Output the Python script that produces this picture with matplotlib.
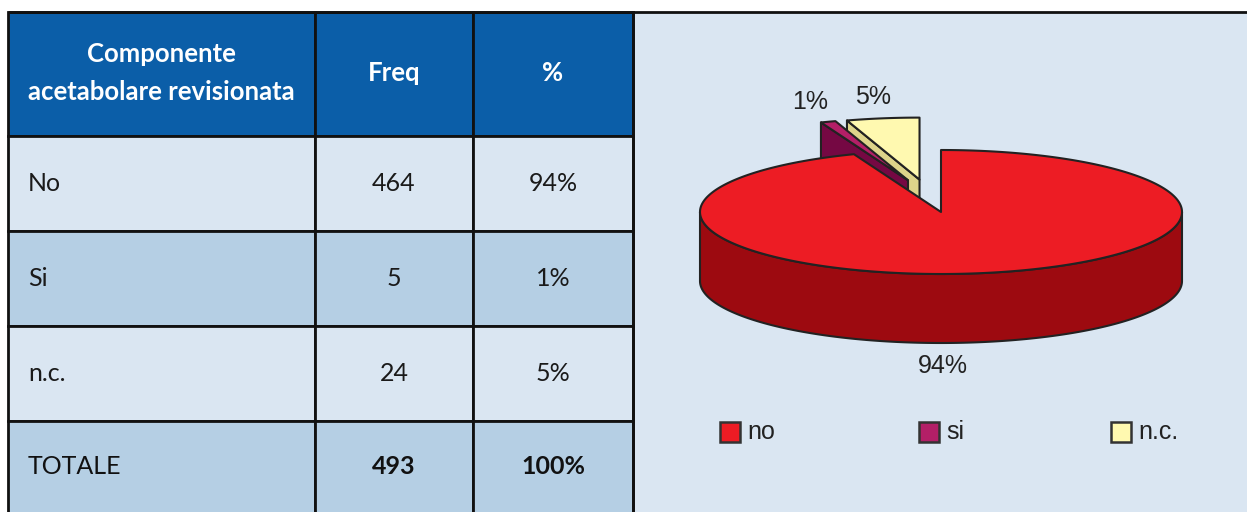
import numpy as np
import matplotlib
matplotlib.use("Agg")
import matplotlib.pyplot as plt
from matplotlib.patches import Rectangle, Polygon

# ---- data ----
categories = ["No", "Si", "n.c."]
legend_labels = ["no", "si", "n.c."]
freq = [464, 5, 24]
pct_labels = ["94%", "1%", "5%"]
total_label = "TOTALE"
total_freq = 493
total_pct = "100%"
header = ["Componente\nacetabolare revisionata", "Freq", "%"]
explode = [0.0, 0.53, 0.53]

# ---- styling ----
top_colors = ["#ed1c24", "#b31f67", "#fff9b0"]
side_colors = ["#9d0a10", "#750843", "#ddd48a"]
header_bg = "#0b5ea8"
light_bg = "#dae6f2"
dark_bg = "#b5cfe4"
table_font = "Lato"
chart_font = "Liberation Sans"
text_col = "#1a1a1a"

W, H = 1247, 512
fig = plt.figure(figsize=(W / 100, H / 100), dpi=100)
fig.patch.set_facecolor("white")
ax = fig.add_axes([0, 0, 1, 1])
ax.set_xlim(0, W)
ax.set_ylim(H, 0)
ax.axis("off")

# ---- table ----
col_x = [8, 315, 473, 633]
row_y = [12, 136, 231, 326, 421, 515]
row_bg = [header_bg, light_bg, dark_bg, light_bg, dark_bg]

for r in range(5):
    for c in range(3):
        ax.add_patch(Rectangle((col_x[c], row_y[r]), col_x[c + 1] - col_x[c],
                               row_y[r + 1] - row_y[r], facecolor=row_bg[r],
                               edgecolor="#111111", lw=2.0, zorder=1))

# header
for c in range(3):
    xc = (col_x[c] + col_x[c + 1]) / 2
    yc = (row_y[0] + row_y[1]) / 2
    ax.text(xc, yc - 1, header[c], color="white", fontsize=18.5, fontweight="bold",
            family=table_font, ha="center", va="center", linespacing=1.75, zorder=3)

# body rows
rows = [(categories[i], str(freq[i]), pct_labels[i]) for i in range(3)]
for i, (name, f, p) in enumerate(rows):
    yc = (row_y[i + 1] + row_y[i + 2]) / 2
    ax.text(col_x[0] + 20, yc, name, fontsize=18, family=table_font,
            color=text_col, ha="left", va="center", zorder=3)
    ax.text((col_x[1] + col_x[2]) / 2, yc, f, fontsize=18, family=table_font,
            color=text_col, ha="center", va="center", zorder=3)
    ax.text((col_x[2] + col_x[3]) / 2, yc, p, fontsize=18, family=table_font,
            color=text_col, ha="center", va="center", zorder=3)

yc = (row_y[4] + 512) / 2
ax.text(col_x[0] + 20, yc, total_label, fontsize=18, family=table_font,
        color="#111111", ha="left", va="center", zorder=3)
ax.text((col_x[1] + col_x[2]) / 2, yc, str(total_freq), fontsize=18, family=table_font,
        fontweight="bold", color="#111111", ha="center", va="center", zorder=3)
ax.text((col_x[2] + col_x[3]) / 2, yc, total_pct, fontsize=18, family=table_font,
        fontweight="bold", color="#111111", ha="center", va="center", zorder=3)

# ---- chart panel ----
ax.add_patch(Rectangle((col_x[3], 12), W - col_x[3] + 5, H, facecolor=light_bg,
                       edgecolor="none", zorder=0.5))
ax.plot([col_x[0], W], [12, 12], color="#111111", lw=2.0, zorder=2,
        solid_capstyle="butt")
ax.plot([col_x[3], col_x[3]], [12, H], color="#111111", lw=2.0, zorder=2)

# ---- 3D pie ----
cx, cy = 941.0, 212.0
rx, ry, depth = 241.0, 62.0, 69.0
vals = np.array(freq, dtype=float)
fracs = vals / vals.sum()


def proj(theta, r, z, off):
    t = np.radians(theta)
    x = cx + off[0] + r * rx * np.cos(t)
    y = cy + off[1] - r * ry * np.sin(t) + z * depth
    return x, y


def arc(a, b, z, off, n=None):
    n = n or max(4, int(abs(b - a) * 2))
    th = np.linspace(a, b, n)
    xs, ys = proj(th, 1.0, z, off)
    return list(zip(xs, ys))


# slice spans (counter-clockwise from a to b), laid out clockwise from 12 o'clock
spans = []
start = 90.0
for f in fracs:
    b = start
    a = start - f * 360.0
    spans.append((a, b))
    start = a

# exploded wedges are pulled out together: each one moves along a direction
# halfway between its own bisector and the bisector of the exploded group
pulled = [i for i, e in enumerate(explode) if e > 0]
group_mid = (min(spans[i][0] for i in pulled) + max(spans[i][1] for i in pulled)) / 2
offsets = []
for (a, b), e in zip(spans, explode):
    mid = np.radians(((a + b) / 2 + group_mid) / 2)
    offsets.append((e * rx * np.cos(mid), -e * ry * np.sin(mid)))

ec = "#222222"
lw = 1.5


def draw_slice(i, zbase):
    a, b = spans[i]
    off = offsets[i]
    c0t = proj(0, 0, 0, off)
    c0b = proj(0, 0, 1, off)
    # flat cut faces facing the viewer
    for th, vis in ((a, np.cos(np.radians(a)) > 1e-6), (b, np.cos(np.radians(b)) < -1e-6)):
        if vis:
            rt = proj(th, 1, 0, off)
            rb = proj(th, 1, 1, off)
            ax.add_patch(Polygon([c0t, rt, rb, c0b], closed=True, facecolor=side_colors[i],
                                 edgecolor=ec, lw=lw, joinstyle="round", zorder=zbase))
    # curved outer wall on the front half
    for k in range(-2, 2):
        lo, hi = 180 + 360 * k, 360 + 360 * k
        s, e = max(a, lo), min(b, hi)
        if e > s:
            pts = arc(s, e, 0, off) + arc(e, s, 1, off)
            ax.add_patch(Polygon(pts, closed=True, facecolor=side_colors[i],
                                 edgecolor=ec, lw=lw, joinstyle="round", zorder=zbase + 0.1))
    # top face
    pts = [c0t] + arc(a, b, 0, off)
    ax.add_patch(Polygon(pts, closed=True, facecolor=top_colors[i], edgecolor=ec,
                         lw=lw, joinstyle="round", zorder=zbase + 0.2))


# back-most slices first
order = [2, 1, 0]
for n, i in enumerate(order):
    draw_slice(i, 4 + n)

# percentage labels
label_pos = [(943, 366), (810, 102), (873, 97)]
for i, (lx, ly) in enumerate(label_pos):
    ax.text(lx, ly, f"{round(100 * fracs[i])}%", fontsize=18, family=chart_font,
            color="#222222", ha="center", va="center", zorder=10)

# legend
leg_x = [720, 919, 1111]
leg_y = 432
sq = 20
for i in range(3):
    ax.add_patch(Rectangle((leg_x[i], leg_y - sq / 2), sq, sq, facecolor=top_colors[i],
                           edgecolor="#333333", lw=1.8, zorder=10))
    ax.text(leg_x[i] + sq + 7, leg_y, legend_labels[i], fontsize=18, family=chart_font,
            color="#222222", ha="left", va="center", zorder=10)

fig.savefig("out.png", dpi=100, facecolor=fig.get_facecolor())
